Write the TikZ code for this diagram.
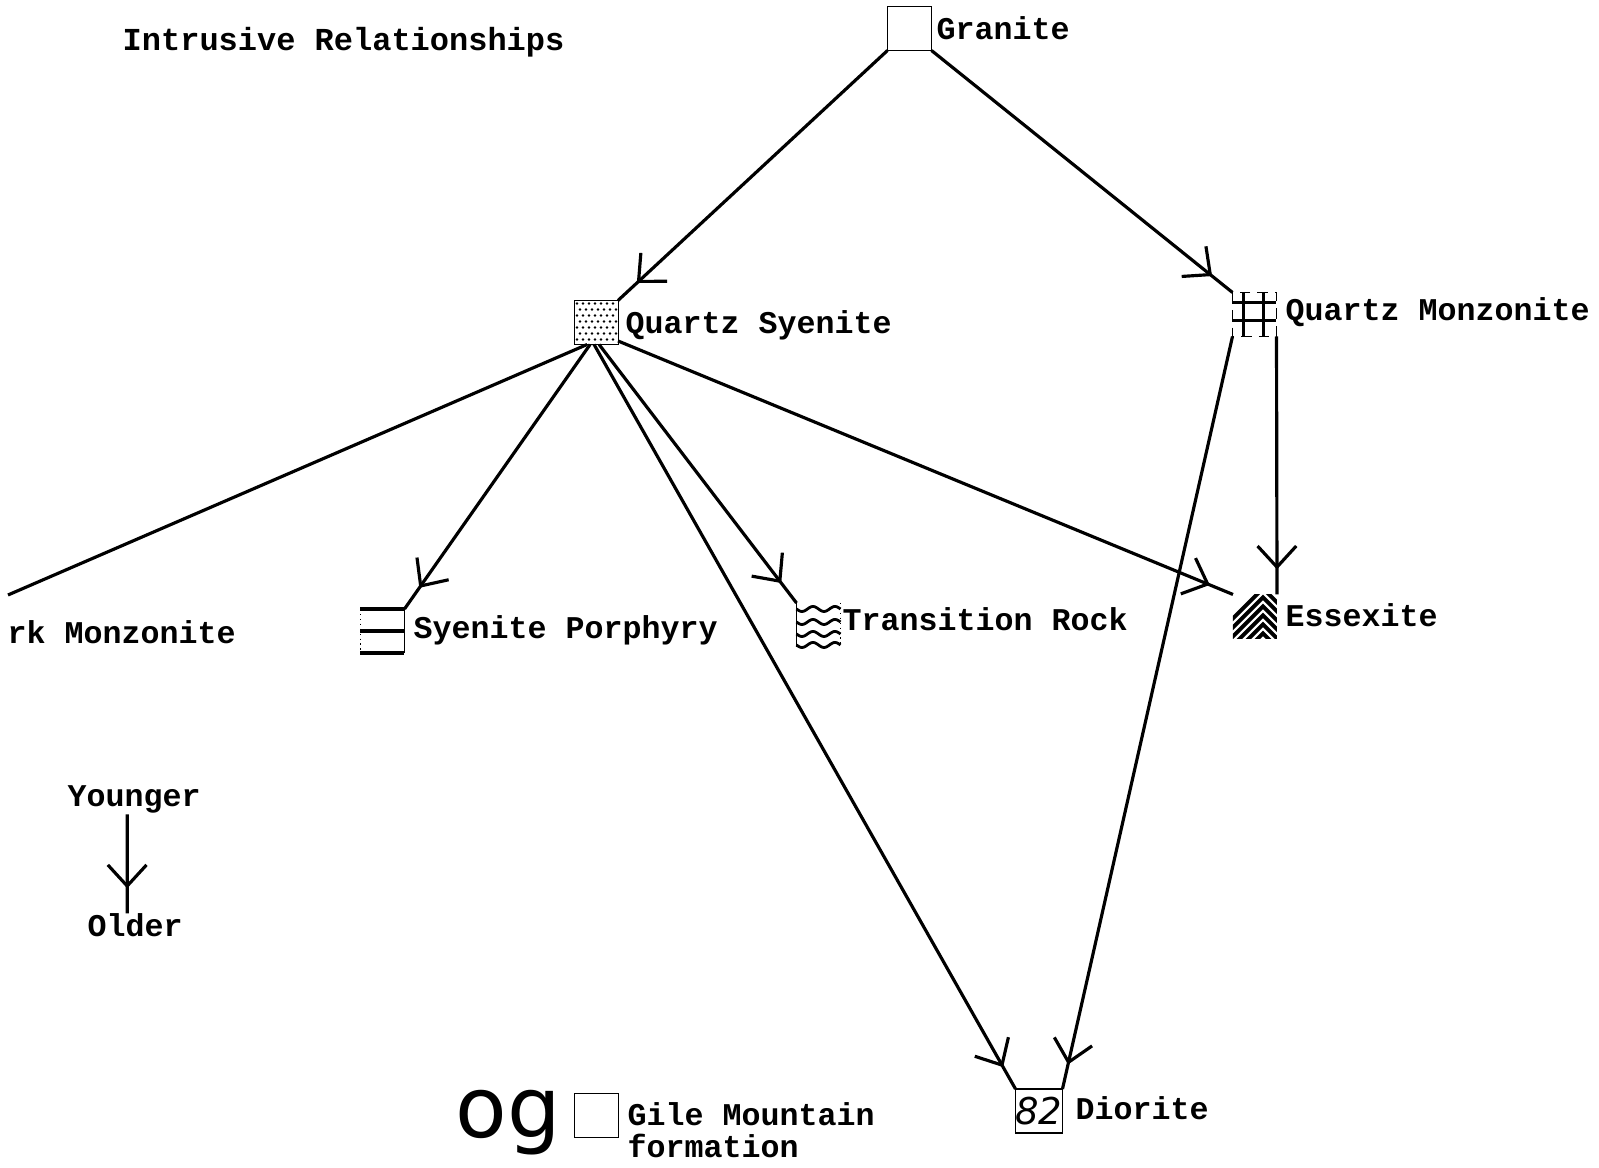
\documentclass[tikz,border=0pt]{standalone}
\usepackage{fontspec}
\setmonofont{Liberation Mono}
\newfontfamily\ogfont{DejaVu Sans}
\usetikzlibrary{arrows.meta,decorations.markings}
\tikzset{
	rock/.style={minimum width=0.44cm, minimum height=0.44cm, inner sep=0pt, outer sep=0pt},
	rockname/.style={anchor=base west, inner sep=0pt, font=\ttfamily\bfseries\fontsize{9}{11}\selectfont},
	link/.style={line width=0.9pt},
	intrudes/.style={link, postaction={decorate},
			decoration={markings, mark=at position -0.25cm with {\arrow{Straight Barb[length=6pt, width=11pt, line width=0.9pt]}}}}
}

\begin{document}
\begin{tikzpicture}[x=0.01cm, y=-0.01cm]
    \useasboundingbox (0,0) rectangle (1599,1168);
    \def\dotstep{6} % spacing of the stipple
    \def\rule{1pt} % width of the pattern lines

    % Rock symbols
    \node[rock] (granite) at (909.5,28.5) {};
    \node[rock] (qs) at (596,322.5) {};
    \node[rock] (qm) at (1254.5,314.5) {};
    \node[rock] (sp) at (382.5,631) {};
    \node[rock] (tr) at (818.5,625) {};
    \node[rock] (ess) at (1255,616.5) {};
    \node[rock, draw, thin, font=\ogfont\itshape\fontsize{10.5}{12}\selectfont] (dio) at (1039,1111) {82};
    \node[rock, draw, thin] (gile) at (596.5,1115.5) {};

    % Granite
    \draw[thin] (granite.south west) rectangle (granite.north east);

    % Quartz syenite stipple
    \begin{scope}[shift={(qs.north west)}]
      \draw[very thin] (0,0) rectangle (44,44);
      \foreach \i in {0,...,6} {
        \foreach \j in {0,...,6} {
          \fill ({3+\dotstep*\i+3*mod(\j,2)},{3+\dotstep*\j}) circle[radius=0.014cm];
        }
      }
    \end{scope}

    % Quartz monzonite grid
    \begin{scope}[shift={(qm.north west)}]
      \draw[thin, densely dashed] (0,0) rectangle (44,44);
      \foreach \t in {11,31} {
        \draw[line width=\rule] (\t,0) -- (\t,44);
      }
      \foreach \t in {10,28} {
        \draw[line width=\rule] (0,\t) -- (44,\t);
      }
    \end{scope}

    % Syenite porphyry lines
    \begin{scope}[shift={(sp.north west)}]
      \draw[thin, densely dotted] (0,0) -- (0,44);
      \draw[thin] (44,0) -- (44,44);
      \foreach \t in {0,22,44} {
        \draw[line width=\rule] (0,\t) -- (44,\t);
      }
    \end{scope}

    % Transition rock waves
    \begin{scope}[shift={(tr.north west)}]
      \draw[thin] (0,0) -- (0,44);
      \draw[thin, densely dotted] (44,0) -- (44,44);
      \foreach \t in {6,19,31,42} {
        \draw[line width=0.8pt] plot[domain=0:44, samples=40, smooth] (\x,{\t+2.5*sin(\x*360/22)});
      }
    \end{scope}

    % Essexite chevrons
    \begin{scope}[shift={(ess.north west)}]
      \clip (0,0) rectangle (44,44);
      \foreach \k in {0,...,7} {
        \draw[line width=1.1pt] (-20,{\k*9+44}) -- (30,{\k*9-6}) -- (55,{\k*9+19});
      }
    \end{scope}

    % Labels
    \node[rockname, font=\ttfamily\bfseries\fontsize{9.1}{11}\selectfont] (title) at (122,51) {Intrusive Relationships};
    \node[rockname] (granitename) at (936,40) {Granite};
    \node[rockname] (qsname) at (625,334) {Quartz Syenite};
    \node[rockname] (qmname) at (1285,321) {Quartz Monzonite};
    \node[rockname] (rkmname) at (7,644) {rk Monzonite};
    \node[rockname] (spname) at (413,639) {Syenite Porphyry};
    \node[rockname] (trname) at (842,631) {Transition Rock};
    \node[rockname] (essname) at (1285,627) {Essexite};
    \node[rockname] (dioname) at (1075,1120) {Diorite};
    \node[rockname] (gilename) at (627,1126) {Gile Mountain};
    \node[rockname] (gilename2) at (627,1158) {formation};
    \node[anchor=base west, inner sep=0pt, font=\ogfont\fontsize{24}{28}\selectfont] (og) at (455,1138) {og};
    \node[rockname] (youngername) at (67,807) {Younger};
    \node[rockname] (oldername) at (87,937) {Older};

    % Intrusions
    \coordinate (rkm) at (8,595);
    \draw[intrudes] (granite.south west) -- (qs.north east);
    \draw[intrudes] (granite.south east) -- (qm.north west);
    \draw[link] (qs.-112) -- (rkm);
    \draw[intrudes] (qs.-105) -- (sp.north east);
    \draw[intrudes] (qs.-95) -- (dio.north west);
    \draw[intrudes] (qs.-82) -- (tr.north west);
    \draw[intrudes] (qs.-40) -- (ess.north west);
    \draw[intrudes] (qm.south east) -- (ess.north east);
    \draw[intrudes] (qm.south west) -- (dio.north east);

    % Age legend
    \draw[intrudes] ([xshift=-0.07cm]youngername.south) -- ([xshift=-0.08cm]oldername.north);
\end{tikzpicture}
\end{document}
